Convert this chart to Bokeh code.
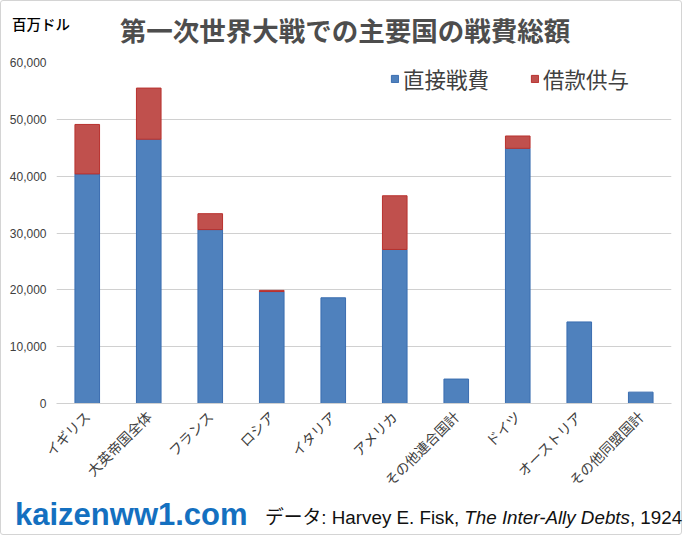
import math
from bokeh.plotting import figure
from bokeh.layouts import column
from bokeh.models import (FactorRange, Range1d, FixedTicker, NumeralTickFormatter,
                          Legend, LegendItem, ColumnDataSource, Div)
from bokeh.embed import file_html
from bokeh.resources import INLINE

categories = ["イギリス", "大英帝国全体", "フランス", "ロシア", "イタリア",
              "アメリカ", "その他連合国計", "ドイツ", "オーストリア", "その他同盟国計"]
direct_costs = [40400, 46500, 30600, 19700, 18600, 27100, 4300, 44900, 14350, 2000]
loans_given = [8700, 9000, 2800, 200, 0, 9450, 0, 2170, 0, 0]
y_ticks = [0, 10000, 20000, 30000, 40000, 50000, 60000]
series_names = ["直接戦費", "借款供与"]
title_text = "第一次世界大戦での主要国の戦費総額"
unit_text = "百万ドル"

JP = "Noto Sans CJK JP"
CW, CH = 682, 535          # content size inside the 1px outer border
HEAD_H, FOOT_H = 53, 36
FIG_H = CH - HEAD_H - FOOT_H

p = figure(x_range=FactorRange(*categories), y_range=Range1d(0, 60000),
           width=CW, height=FIG_H, output_backend="svg", toolbar_location=None,
           min_border_left=55, min_border_right=10, min_border_top=8,
           min_border_bottom=FIG_H - 8 - 341)
p.outline_line_color = None
p.background_fill_color = "white"
p.border_fill_color = "white"

src = ColumnDataSource(dict(cat=categories, direct=direct_costs, loans=loans_given,
                            loan_line_alpha=[1.0 if v > 0 else 0.0 for v in loans_given],
                            loan_fill_alpha=[1.0 if v > 0 else 0.0 for v in loans_given]))
r = p.vbar_stack(["direct", "loans"], x="cat", width=0.4, source=src,
                 fill_color=["#4f81bd", "#c0504d"],
                 line_color=["#3a6db0", "#b8312e"], line_width=1,
                 line_alpha=[1.0, "loan_line_alpha"],
                 fill_alpha=[1.0, "loan_fill_alpha"])

p.xgrid.grid_line_color = None
p.ygrid.grid_line_color = "#d0d0d0"
p.ygrid.grid_line_width = 1

p.yaxis.ticker = FixedTicker(ticks=y_ticks)
p.yaxis.formatter = NumeralTickFormatter(format="0,0")
p.yaxis.axis_line_color = None
p.yaxis.major_tick_line_color = None
p.yaxis.minor_tick_line_color = None
p.yaxis.major_tick_out = 0
p.yaxis.major_label_standoff = 10
p.yaxis.major_label_text_font = "Liberation Sans"
p.yaxis.major_label_text_font_size = "12px"
p.yaxis.major_label_text_color = "#404040"

p.xaxis.axis_line_color = "#d0d0d0"
p.xaxis.major_tick_line_color = None
p.xaxis.major_tick_out = 0
p.xaxis.major_label_orientation = math.pi / 4
p.xaxis.major_label_standoff = 10
p.xaxis.major_label_text_font = JP
p.xaxis.major_label_text_font_size = "14px"
p.xaxis.major_label_text_color = "#404040"

legend = Legend(items=[LegendItem(label=series_names[0], renderers=[r[0]]),
                       LegendItem(label=series_names[1], renderers=[r[1]])],
                orientation="horizontal", location=(334, 309),
                glyph_width=9, glyph_height=9, label_standoff=4, spacing=41,
                padding=0, margin=0, border_line_color=None,
                background_fill_alpha=0,
                label_text_font=JP, label_text_font_size="21.5px",
                label_text_color="#404040")
p.add_layout(legend, "center")

header = Div(width=CW, height=HEAD_H, margin=0, text=f"""
<div style="position:relative;width:{CW}px;height:{HEAD_H}px;">
  <div style="position:absolute;left:11px;top:16px;white-space:nowrap;font-family:'{JP}';font-size:14.5px;line-height:14.5px;font-weight:500;color:#000000;">{unit_text}</div>
  <div style="position:absolute;left:3px;top:16px;width:{CW}px;text-align:center;white-space:nowrap;font-family:'{JP}';font-size:26.5px;line-height:26.5px;font-weight:bold;color:#4d4d4d;">{title_text}</div>
</div>""")

footer = Div(width=CW, height=FOOT_H, margin=0, text=f"""
<div style="position:relative;width:{CW}px;height:{FOOT_H}px;">
  <div style="position:absolute;left:14px;top:-1px;white-space:nowrap;font-family:'Liberation Sans';font-weight:bold;font-size:31px;line-height:31px;color:#1470c0;">kaizenww1.com</div>
  <div style="position:absolute;left:264px;top:9px;white-space:nowrap;font-family:'Liberation Sans','{JP}';font-size:18.8px;line-height:18.8px;color:#111111;">データ: Harvey E. Fisk, <i>The Inter-Ally Debts</i>, 1924</div>
</div>""")

layout = column(header, p, footer, spacing=0, width=CW, height=CH,
                styles={"border": "1px solid #d4d4d4", "border-radius": "3px",
                        "background-color": "white"})

open("out.html", "w").write(file_html(layout, INLINE))
